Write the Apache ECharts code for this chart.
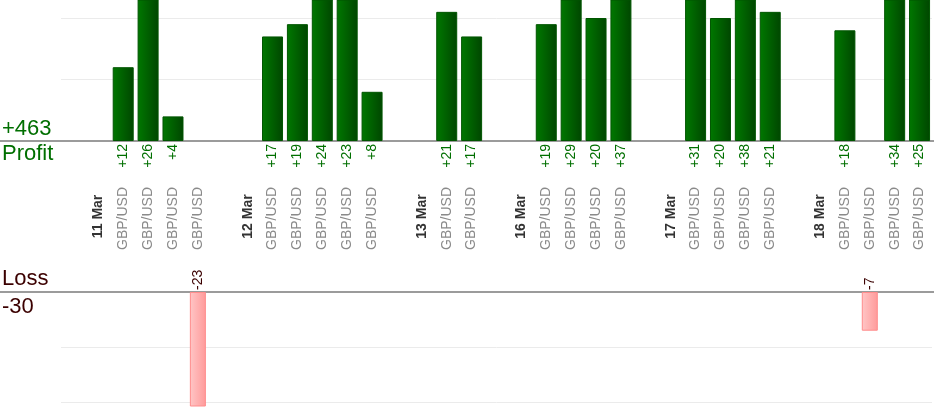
<!DOCTYPE html>
<html>
<head>
<meta charset="utf-8">
<script src="https://cdn.jsdelivr.net/npm/echarts@6/dist/echarts.min.js"></script>
<style>
  html, body { margin: 0; padding: 0; background: #fff; }
  #chart { width: 934px; height: 420px; }
</style>
</head>
<body>
<div id="chart"></div>
<script>
// Trading days and the trades made on each (one slot per trade, blank slots between days)
const categories = [
  '', '11 Mar', 'GBP/USD', 'GBP/USD', 'GBP/USD', 'GBP/USD',
  '', '12 Mar', 'GBP/USD', 'GBP/USD', 'GBP/USD', 'GBP/USD', 'GBP/USD',
  '', '13 Mar', 'GBP/USD', 'GBP/USD',
  '', '16 Mar', 'GBP/USD', 'GBP/USD', 'GBP/USD', 'GBP/USD',
  '', '17 Mar', 'GBP/USD', 'GBP/USD', 'GBP/USD', 'GBP/USD',
  '', '18 Mar', 'GBP/USD', 'GBP/USD', 'GBP/USD', 'GBP/USD'
];

// Winning trades (pips)
const profitValues = [
  null, null, 12, 26, 4, null,
  null, null, 17, 19, 24, 23, 8,
  null, null, 21, 17,
  null, null, 19, 29, 20, 37,
  null, null, 31, 20, 38, 21,
  null, null, 18, null, 34, 25
];

// Losing trades (pips)
const lossValues = [
  null, null, null, null, null, -23,
  null, null, null, null, null, null, null,
  null, null, null, null,
  null, null, null, null, null, null,
  null, null, null, null, null, null,
  null, null, null, -7, null, null
];

// Guide lines drawn behind the bars
const profitGridValues = [10, 20];
const lossGridValues = [-10, -20];

const sum = arr => arr.reduce((a, v) => a + (v == null ? 0 : v), 0);
const profitTotal = sum(profitValues);
const lossTotal = sum(lossValues);

const FONT = '"Liberation Sans", Arial, sans-serif';
const GREEN = '#006f00';
const MAROON = '#3b0000';
const isPair = v => v.indexOf('/') >= 0;

const chart = echarts.init(document.getElementById('chart'), null, { renderer: 'canvas' });

const guideLines = values => ({
  silent: true, symbol: 'none', z: 0, label: { show: false },
  lineStyle: { color: '#ebebeb', width: 1, type: 'solid' },
  data: values.map(v => ({ yAxis: v }))
});

const hiddenAxisParts = {
  axisLine: { show: false }, axisTick: { show: false }, splitLine: { show: false }
};

const option = {
  animation: false,
  backgroundColor: '#ffffff',
  textStyle: { fontFamily: FONT },
  grid: [
    { left: 61, right: 2, top: 0, height: 141 },
    { left: 61, right: 2, top: 292, height: 114 },
    { left: 0, right: 0, top: 0, height: 141 },
    { left: 0, right: 0, top: 292, height: 114 }
  ],
  xAxis: [
    // trade labels (gray)
    Object.assign({
      gridIndex: 0, type: 'category', data: categories, position: 'bottom', offset: 0,
      axisLabel: {
        interval: 0, rotate: 90, margin: 77.5, align: 'center', verticalAlign: 'middle',
        fontFamily: FONT, fontSize: 14, color: '#8a8a8a',
        formatter: v => isPair(v) ? v : ''
      }
    }, hiddenAxisParts),
    Object.assign({
      gridIndex: 1, type: 'category', data: categories, position: 'top',
      axisLabel: { show: false }
    }, hiddenAxisParts),
    // full-width zero lines
    {
      gridIndex: 2, type: 'value', min: 0, max: 1, position: 'bottom',
      axisLine: { show: true, onZero: false, lineStyle: { color: '#7a7a7a', width: 1.5 } },
      axisTick: { show: false }, axisLabel: { show: false }, splitLine: { show: false }
    },
    {
      gridIndex: 3, type: 'value', min: 0, max: 1, position: 'top',
      axisLine: { show: true, onZero: false, lineStyle: { color: '#7a7a7a', width: 1.5 } },
      axisTick: { show: false }, axisLabel: { show: false }, splitLine: { show: false }
    },
    // day labels (bold)
    Object.assign({
      gridIndex: 0, type: 'category', data: categories, position: 'bottom', offset: 0,
      axisLabel: {
        interval: 0, rotate: 90, margin: 75.5, align: 'center', verticalAlign: 'middle',
        fontFamily: FONT, fontSize: 14, fontWeight: 'bold', color: '#333333',
        formatter: v => (v !== '' && !isPair(v)) ? v : ''
      }
    }, hiddenAxisParts)
  ],
  yAxis: [
    Object.assign({ gridIndex: 0, type: 'value', min: 0, max: 141 / 6.15, axisLabel: { show: false } }, hiddenAxisParts),
    Object.assign({ gridIndex: 1, type: 'value', min: -114 / 5.53, max: 0, axisLabel: { show: false } }, hiddenAxisParts),
    { gridIndex: 2, type: 'value', min: 0, max: 1, show: false },
    { gridIndex: 3, type: 'value', min: 0, max: 1, show: false }
  ],
  series: [
    {
      type: 'bar', xAxisIndex: 0, yAxisIndex: 0, data: profitValues,
      barWidth: 21, z: 2,
      itemStyle: {
        color: new echarts.graphic.LinearGradient(0, 0, 1, 0, [
          { offset: 0, color: '#007800' },
          { offset: 1, color: '#004600' }
        ]),
        borderColor: '#005500', borderWidth: 1
      },
      label: {
        show: true, position: 'bottom', distance: 3, rotate: 90,
        align: 'right', verticalAlign: 'middle',
        fontFamily: FONT, fontSize: 14, color: GREEN,
        formatter: p => '+' + p.value
      },
      markLine: guideLines(profitGridValues)
    },
    {
      type: 'bar', xAxisIndex: 1, yAxisIndex: 1, data: lossValues,
      barWidth: 16, z: 2,
      itemStyle: {
        color: new echarts.graphic.LinearGradient(0, 0, 1, 0, [
          { offset: 0, color: '#ffc6c6' },
          { offset: 1, color: '#ff9a9a' }
        ]),
        borderColor: '#ff8c8c', borderWidth: 1
      },
      label: {
        show: true, position: 'top', distance: 2, rotate: 90,
        align: 'left', verticalAlign: 'middle',
        fontFamily: FONT, fontSize: 14, color: MAROON,
        formatter: p => String(p.value)
      },
      markLine: guideLines(lossGridValues)
    }
  ],
  graphic: [
    { type: 'text', left: 2, top: 118, style: { text: '+' + profitTotal, font: '22px ' + FONT, fill: GREEN } },
    { type: 'text', left: 2, top: 143, style: { text: 'Profit', font: '22px ' + FONT, fill: GREEN } },
    { type: 'text', left: 2, top: 268, style: { text: 'Loss', font: '22px ' + FONT, fill: MAROON } },
    { type: 'text', left: 2, top: 296, style: { text: String(lossTotal), font: '22px ' + FONT, fill: MAROON } }
  ]
};

chart.setOption(option);
</script>
</body>
</html>
